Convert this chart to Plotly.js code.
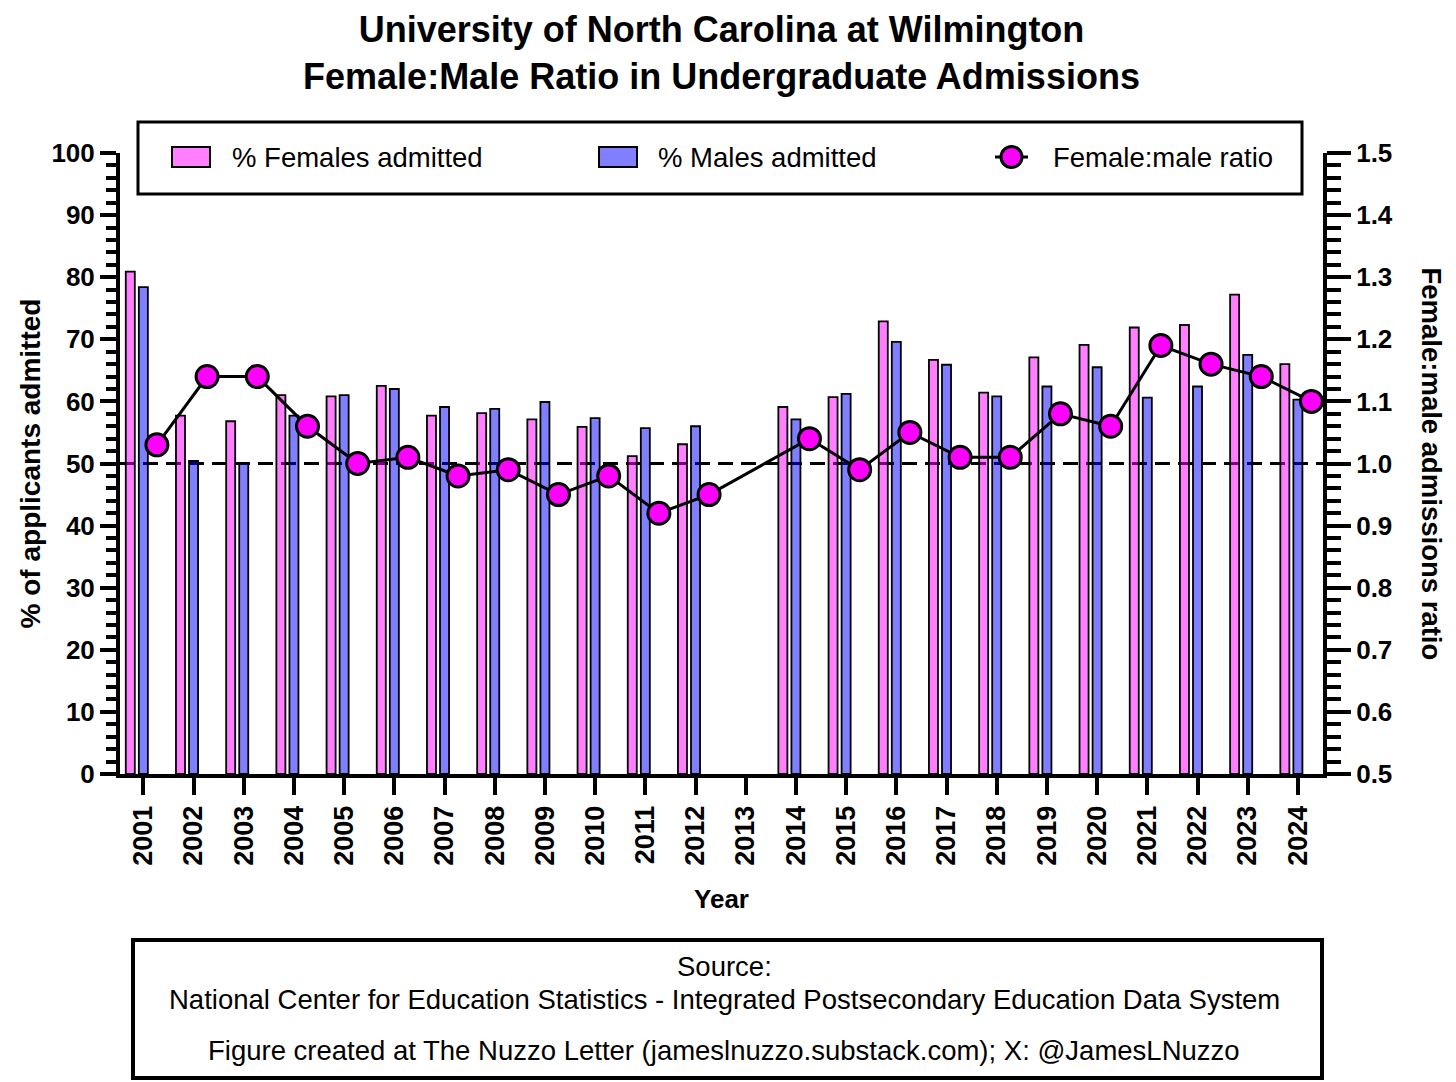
<!DOCTYPE html>
<html>
<head>
<meta charset="utf-8">
<script src="https://cdn.plot.ly/plotly-3.0.1.min.js"></script>
<style>html,body{margin:0;padding:0;background:#fff;}#chart{width:1456px;height:1082px;}</style>
</head>
<body>
<div id="chart"></div>
<script>
const years = [2001,2002,2003,2004,2005,2006,2007,2008,2009,2010,2011,2012,2013,2014,2015,2016,2017,2018,2019,2020,2021,2022,2023,2024];
const yearLabels = ["2001","2002","2003","2004","2005","2006","2007","2008","2009","2010","2011","2012","2013","2014","2015","2016","2017","2018","2019","2020","2021","2022","2023","2024"];
const femalesAdmitted = [80.9,57.7,56.8,61.0,60.8,62.5,57.7,58.1,57.1,55.9,51.2,53.1,null,59.1,60.7,72.9,66.7,61.4,67.1,69.1,71.9,72.3,77.2,66.0];
const malesAdmitted = [78.4,50.4,50.0,57.7,61.0,62.0,59.1,58.8,59.9,57.3,55.7,56.0,null,57.1,61.2,69.6,65.9,60.8,62.4,65.5,60.6,62.4,67.5,60.3];
const femaleMaleRatio = [1.03,1.14,1.14,1.06,1.00,1.01,0.98,0.99,0.95,0.98,0.92,0.95,null,1.04,0.99,1.05,1.01,1.01,1.08,1.06,1.19,1.16,1.14,1.10];
const leftTicks = [0,10,20,30,40,50,60,70,80,90,100];
const rightTicks = [0.5,0.6,0.7,0.8,0.9,1.0,1.1,1.2,1.3,1.4,1.5];

const FONT = "Liberation Sans, Arial, Helvetica, sans-serif";
const W = 1456, H = 1082;
const L = 120, R = 1323, T = 153, B = 774;
const px = x => (x - L) / (R - L);
const py = y => (B - y) / (B - T);
const xRange = [2000.535, 2024.5];
const dotShift = 0.27;

const traces = [
  {
    type: 'bar', name: '% Females admitted', x: years, y: femalesAdmitted,
    offset: -0.35, width: 0.18,
    marker: {color: 'rgba(255,0,255,0.5)', line: {color: '#000', width: 1.8}},
    showlegend: false, hoverinfo: 'x+y'
  },
  {
    type: 'bar', name: '% Males admitted', x: years, y: malesAdmitted,
    offset: -0.09, width: 0.18,
    marker: {color: 'rgba(0,0,255,0.5)', line: {color: '#000', width: 1.8}},
    showlegend: false, hoverinfo: 'x+y'
  },
  {
    type: 'scatter', mode: 'lines+markers', name: 'Female:male ratio',
    x: years, y: femaleMaleRatio, xaxis: 'x2', yaxis: 'y2',
    connectgaps: true, cliponaxis: false,
    line: {color: '#000', width: 3},
    marker: {color: '#ff00ff', size: 22, line: {color: '#000', width: 3}},
    showlegend: false
  }
];

const shapes = [
  {type: 'line', xref: 'paper', yref: 'y', x0: 0, x1: 1, y0: 50, y1: 50,
   line: {color: '#000', width: 3, dash: '15px,8px'}, layer: 'below'},
  {type: 'rect', xref: 'paper', yref: 'paper', x0: px(138), x1: px(1302), y0: py(122), y1: py(194),
   line: {color: '#000', width: 3}, fillcolor: '#fff'},
  {type: 'rect', xref: 'paper', yref: 'paper', x0: px(172), x1: px(210), y0: py(147), y1: py(167),
   line: {color: '#000', width: 2}, fillcolor: 'rgba(255,0,255,0.5)'},
  {type: 'rect', xref: 'paper', yref: 'paper', x0: px(599), x1: px(637), y0: py(147), y1: py(167),
   line: {color: '#000', width: 2}, fillcolor: 'rgba(0,0,255,0.5)'},
  {type: 'line', xref: 'paper', yref: 'paper', x0: px(995), x1: px(1028), y0: py(157), y1: py(157),
   line: {color: '#000', width: 3}},
  {type: 'circle', xref: 'paper', yref: 'paper', x0: px(1001), x1: px(1022), y0: py(146.5), y1: py(167.5),
   line: {color: '#000', width: 3}, fillcolor: '#ff00ff'},
  {type: 'rect', xref: 'paper', yref: 'paper', x0: px(133), x1: px(1322), y0: py(940), y1: py(1078),
   line: {color: '#000', width: 4}, fillcolor: 'rgba(0,0,0,0)'}
];

const legendFont = {family: FONT, size: 27.5, color: '#000'};
const srcFont = {family: FONT, size: 27.5, color: '#000'};
const annotations = [
  {xref: 'paper', yref: 'paper', x: px(230), y: py(157), xanchor: 'left', yanchor: 'middle',
   text: '% Females admitted', showarrow: false, font: legendFont},
  {xref: 'paper', yref: 'paper', x: px(656), y: py(157), xanchor: 'left', yanchor: 'middle',
   text: '% Males admitted', showarrow: false, font: legendFont},
  {xref: 'paper', yref: 'paper', x: px(1051), y: py(157), xanchor: 'left', yanchor: 'middle',
   text: 'Female:male ratio', showarrow: false, font: legendFont},
  {xref: 'paper', yref: 'paper', x: px(1431), y: 0.5, xanchor: 'center', yanchor: 'middle',
   text: 'Female:male admissions ratio', textangle: 90, showarrow: false,
   font: {family: FONT, size: 27.5, color: '#000', weight: 'bold'}},
  {xref: 'paper', yref: 'paper', x: px(724), y: py(966), xanchor: 'center', yanchor: 'middle',
   text: 'Source:', showarrow: false, font: srcFont},
  {xref: 'paper', yref: 'paper', x: px(724), y: py(999), xanchor: 'center', yanchor: 'middle',
   text: 'National Center for Education Statistics - Integrated Postsecondary Education Data System', showarrow: false, font: srcFont},
  {xref: 'paper', yref: 'paper', x: px(724), y: py(1050), xanchor: 'center', yanchor: 'middle',
   text: 'Figure created at The Nuzzo Letter (jameslnuzzo.substack.com); X: @JamesLNuzzo', showarrow: false, font: srcFont}
];

const layout = {
  width: W, height: H,
  margin: {l: L, r: W - R, t: T, b: H - B, pad: 0},
  paper_bgcolor: '#fff', plot_bgcolor: '#fff',
  font: {family: FONT, color: '#000'},
  barmode: 'overlay',
  showlegend: false,
  title: {
    text: 'University of North Carolina at Wilmington<br>Female:Male Ratio in Undergraduate Admissions',
    font: {family: FONT, size: 36, color: '#000', weight: 'bold'},
    x: 0.5, xref: 'paper', xanchor: 'center',
    y: 1 - 42 / H, yref: 'container', yanchor: 'middle'
  },
  xaxis: {
    range: xRange, tickmode: 'array', tickvals: years, ticktext: yearLabels,
    tickangle: -90, ticks: 'outside', ticklen: 17, tickwidth: 4, tickcolor: '#000',
    showline: true, linewidth: 4, linecolor: '#000', showgrid: false, zeroline: false,
    tickfont: {family: FONT, size: 27, color: '#000', weight: 'bold'},
    title: {text: 'Year', font: {family: FONT, size: 26, color: '#000', weight: 'bold'}, standoff: 26}
  },
  xaxis2: {
    range: [xRange[0] - dotShift, xRange[1] - dotShift], overlaying: 'x', anchor: 'y',
    visible: false, showgrid: false, zeroline: false
  },
  yaxis: {
    range: [0, 100], tickmode: 'array', tickvals: leftTicks,
    ticks: 'outside', ticklen: 16, tickwidth: 4, tickcolor: '#000',
    minor: {dtick: 2, ticks: 'outside', ticklen: 10, tickwidth: 4, tickcolor: '#000', showgrid: false},
    showline: true, linewidth: 4, linecolor: '#000', showgrid: false, zeroline: false,
    tickfont: {family: FONT, size: 26, color: '#000', weight: 'bold'},
    title: {text: '% of applicants admitted', font: {family: FONT, size: 28, color: '#000', weight: 'bold'}, standoff: 4}
  },
  yaxis2: {
    range: [0.5, 1.5], overlaying: 'y', side: 'right', anchor: 'x',
    tickmode: 'array', tickvals: rightTicks, tickformat: '.1f',
    ticks: 'outside', ticklen: 24, tickwidth: 4, tickcolor: '#000',
    minor: {dtick: 0.02, ticks: 'outside', ticklen: 14, tickwidth: 4, tickcolor: '#000', showgrid: false},
    showline: true, linewidth: 4, linecolor: '#000', showgrid: false, zeroline: false,
    tickfont: {family: FONT, size: 26, color: '#000', weight: 'bold'}
  },
  shapes: shapes,
  annotations: annotations
};

Plotly.newPlot('chart', traces, layout, {displayModeBar: false, staticPlot: true});
</script>
</body>
</html>
